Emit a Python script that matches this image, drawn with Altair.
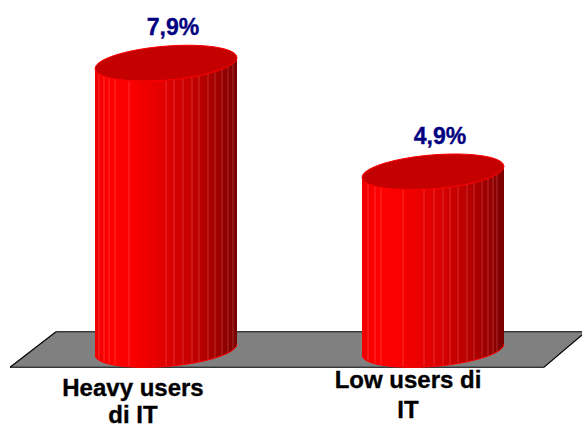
import altair as alt
import numpy as np
import pandas as pd

# Chart values
groups = ["Heavy users di IT", "Low users di IT"]
values = [7.9, 4.9]
value_labels = ["7,9%", "4,9%"]
group_lines = [["Heavy users", "di IT"], ["Low users di", "IT"]]

# Layout of the drawing, in scale units (x is one unit per pixel)
WIDTH, HEIGHT = 582, 424
PX_PER_UNIT = 36.25
BASE_PX = 349.5
CENTERS = [166, 433]
HALF_W = 71
ELLIPSE_B = 17 / PX_PER_UNIT
TILT = 5.5 / 71 / PX_PER_UNIT
FLOOR_DEPTH = 0.49
LABEL_X = [173, 440]
CAT_X = [133, 408]
CAT_Y_PX = [[396, 423], [388, 418]]
RIDGES = [
    [4, 9, 14, 20, 34, 71, 79, 88, 97, 104, 113, 120, 127, 133, 138],
    [6, 13, 19, 41, 62, 72, 81, 88, 96, 105, 112, 120, 126, 131, 135],
]
SHADE_POS = [0.0, 0.10, 0.25, 0.50, 0.75, 0.90, 1.0]
SHADE_RGB = [(238, 0, 0), (255, 0, 0), (250, 0, 0), (224, 0, 0), (184, 0, 0), (150, 0, 0), (120, 0, 0)]


def to_value(px):
    return (BASE_PX - px) / PX_PER_UNIT


def shade(f):
    rgb = [np.interp(f, SHADE_POS, [c[i] for c in SHADE_RGB]) for i in range(3)]
    return "#%02x%02x%02x" % tuple(int(round(c)) for c in rgb)


def lower_edge(u, level):
    return level + TILT * u - ELLIPSE_B * np.sqrt(np.clip(1 - (u / HALF_W) ** 2, 0, 1))


def upper_edge(u, level):
    return level + TILT * u + ELLIPSE_B * np.sqrt(np.clip(1 - (u / HALF_W) ** 2, 0, 1))


slices, ridges, caps, rims = [], [], [], []
for i, (cx, v) in enumerate(zip(CENTERS, values)):
    for u in range(-HALF_W, HALF_W):
        color = shade((u + HALF_W + 0.5) / (2 * HALF_W))
        for e in (u, u + 1):
            slices.append({"id": f"{i}-{u}", "x": cx + e, "y": v + TILT * e,
                           "y2": lower_edge(e, 0.0), "color": color})
    for off in RIDGES[i]:
        u = off - HALF_W
        ridges.append({"x": cx + u, "y": lower_edge(u, v), "y2": lower_edge(u, 0.0)})
    for u in np.arange(-HALF_W, HALF_W + 0.5, 1.0):
        caps.append({"id": i, "x": cx + u, "y": upper_edge(u, v), "y2": lower_edge(u, v)})
        rims.append({"id": i, "x": cx + u, "y": lower_edge(u, 0.0)})

x_scale = alt.Scale(domain=[0, WIDTH], range=[0, WIDTH])
y_scale = alt.Scale(domain=[to_value(HEIGHT), to_value(0)], range=[HEIGHT, 0])
X = alt.X("x:Q", scale=x_scale, axis=None)
Y = alt.Y("y:Q", scale=y_scale, axis=None)

# Grey floor plane with its dark edges
front, back = -FLOOR_DEPTH, FLOOR_DEPTH
floor_df = pd.DataFrame({
    "x": [10, 56, 544, 582],
    "y": [front, back, back, back],
    "y2": [front, front, front, to_value(335)],
})
floor = alt.Chart(floor_df).mark_area(color="#808080").encode(X, Y, y2="y2:Q")
edges_df = pd.DataFrame({
    "id": ["a", "a", "b", "b", "b", "c", "c"],
    "x": [56, 582, 10, 544, 582, 10, 56],
    "y": [back, back, front, front, to_value(335), front, back],
    "o": [0, 1, 0, 1, 2, 0, 1],
})
edges = alt.Chart(edges_df).mark_line(color="#000000", strokeWidth=1.2).encode(
    X, Y, detail="id:N", order="o:Q"
)

# Cylinder walls, drawn as narrow shaded slices
walls = alt.Chart(pd.DataFrame(slices)).mark_area(interpolate="linear").encode(
    X, Y, y2="y2:Q", detail="id:N", color=alt.Color("color:N", scale=None)
)
ridge_lines = alt.Chart(pd.DataFrame(ridges)).mark_rule(
    color="#ff9a9a", opacity=0.3, strokeWidth=1
).encode(X, Y, y2="y2:Q")
rim = alt.Chart(pd.DataFrame(rims)).mark_line(color="#ff0000", strokeWidth=1).encode(X, Y, detail="id:N")
cap = alt.Chart(pd.DataFrame(caps)).mark_area(
    color="#c40000", stroke="#ff0000", strokeWidth=1
).encode(X, Y, y2="y2:Q", detail="id:N")

# Value labels above the cylinders
label_df = pd.DataFrame({
    "x": LABEL_X,
    "y": [to_value(35), to_value(144)],
    "t": value_labels,
})
labels = alt.Chart(label_df).mark_text(
    font="Liberation Sans", fontWeight="bold", fontSize=23, color="#000080",
    stroke="#000080", strokeWidth=0.35, baseline="alphabetic"
).encode(X, Y, text="t:N")

# Two-line group names under the floor
cat_rows = []
for i, lines in enumerate(group_lines):
    for line, py in zip(lines, CAT_Y_PX[i]):
        cat_rows.append({"x": CAT_X[i], "y": to_value(py), "t": line})
cats = alt.Chart(pd.DataFrame(cat_rows)).mark_text(
    font="Liberation Sans", fontWeight="bold", fontSize=24, color="#000000",
    stroke="#000000", strokeWidth=0.35, baseline="alphabetic"
).encode(X, Y, text="t:N")

chart = alt.layer(floor, edges, walls, ridge_lines, rim, cap, labels, cats).properties(
    width=WIDTH, height=HEIGHT, padding=0, autosize="none", background="#ffffff"
).configure_view(stroke=None)

chart.save("out.html", embed_options={"renderer": "svg", "actions": False})
